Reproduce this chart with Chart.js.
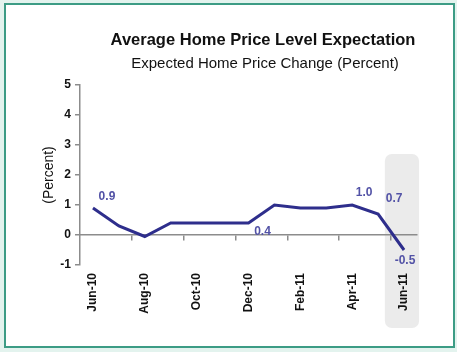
<!DOCTYPE html>
<html>
<head>
<meta charset="utf-8">
<script src="https://cdn.jsdelivr.net/npm/chart.js@4"></script>
<style>
  body { margin: 0; background: #e3f3ee; }
  #frame { position: absolute; left: 4px; top: 3px; width: 447px; height: 341px; border: 2px solid #3c9c85; background: #fff; }
  #c { position: absolute; left: 0; top: 0; }
</style>
</head>
<body>
<div id="frame"></div>
<canvas id="c" width="457" height="352"></canvas>
<script>
const months = ["Jun-10", "Jul-10", "Aug-10", "Sep-10", "Oct-10", "Nov-10", "Dec-10",
                "Jan-11", "Feb-11", "Mar-11", "Apr-11", "May-11", "Jun-11"];
const expectation = [0.9, 0.3, -0.05, 0.4, 0.4, 0.4, 0.4, 1.0, 0.9, 0.9, 1.0, 0.7, -0.5];
const pointLabels = ["0.9", null, null, null, null, null, "0.4", null, null, null, "1.0", "0.7", "-0.5"];
const yTicks = [5, 4, 3, 2, 1, 0, -1];

const axisGray = "#8c8c8c";
const lineColor = "#2e2e8c";
const labelColor = "#5252a6";

// where each value label sits relative to its point
const labelOffsets = { 0: [14, -11], 6: [14, 9], 10: [12, -12], 11: [16, -15], 12: [1, 11] };

const decor = {
  id: "decor",
  beforeDraw(chart) {
    const { ctx, chartArea } = chart;
    const xs = chart.scales.x, ys = chart.scales.y;
    const w = xs.getPixelForValue(1) - xs.getPixelForValue(0);
    const cx = xs.getPixelForValue(months.length - 1);
    ctx.save();
    ctx.fillStyle = "#ebebeb";
    ctx.beginPath();
    const top = ys.getPixelForValue(2.7);
    ctx.roundRect(cx - w * 0.74, top, w * 1.32, chartArea.bottom + 63 - top, 7);
    ctx.fill();
    ctx.restore();
  },
  afterDraw(chart) {
    const { ctx } = chart;
    ctx.save();
    ctx.fillStyle = "#111";
    ctx.textAlign = "center";
    ctx.font = "bold 16.5px 'Liberation Sans', Arial, sans-serif";
    ctx.fillText("Average Home Price Level Expectation", 263, 45);
    ctx.font = "15px 'Liberation Sans', Arial, sans-serif";
    ctx.fillText("Expected Home Price Change (Percent)", 265, 68);

    const meta = chart.getDatasetMeta(0);
    ctx.fillStyle = labelColor;
    ctx.font = "bold 12px 'Liberation Sans', Arial, sans-serif";
    ctx.textBaseline = "middle";
    pointLabels.forEach((t, i) => {
      if (!t) return;
      const p = meta.data[i];
      const o = labelOffsets[i] || [0, -10];
      ctx.fillText(t, p.x + o[0], p.y + o[1]);
    });
    ctx.restore();
  }
};

new Chart(document.getElementById("c"), {
  type: "line",
  data: {
    labels: months,
    datasets: [{
      data: expectation,
      borderColor: lineColor,
      borderWidth: 3,
      pointRadius: 0,
      tension: 0,
      xAxisID: "x",
      yAxisID: "y"
    }]
  },
  plugins: [decor],
  options: {
    responsive: false,
    animation: false,
    layout: { padding: { top: 85, right: 40, left: 0, bottom: 0 } },
    plugins: { legend: { display: false }, tooltip: { enabled: false } },
    scales: {
      x: {
        type: "category",
        position: "bottom",
        offset: true,
        afterFit: s => { s.height = 87; },
        grid: { display: false, drawTicks: false },
        border: { display: false },
        ticks: {
          autoSkip: false,
          maxRotation: 90,
          minRotation: 90,
          padding: 8,
          color: "#111",
          font: { family: "'Liberation Sans', Arial, sans-serif", size: 12, weight: "bold" },
          callback: (v, i) => (i % 2 === 0 ? months[i] : "")
        }
      },
      xZero: {
        type: "category",
        axis: "x",
        labels: months,
        position: { y: 0 },
        offset: true,
        grid: {
          offset: true,
          drawOnChartArea: false,
          tickLength: 5,
          lineWidth: 1.5,
          color: c => (c.index % 2 === 0 && c.index >= 2 ? axisGray : "rgba(0,0,0,0)")
        },
        border: { color: axisGray, width: 1.5 },
        ticks: { display: false, autoSkip: false }
      },
      y: {
        min: Math.min(...yTicks),
        max: Math.max(...yTicks),
        afterFit: s => { s.width = 80; },
        afterBuildTicks: s => { s.ticks = yTicks.map(v => ({ value: v })); },
        grid: { drawOnChartArea: false, tickLength: 5, color: axisGray, lineWidth: 1.5 },
        border: { color: axisGray, width: 1.5 },
        ticks: {
          padding: 4,
          color: "#111",
          font: { family: "'Liberation Sans', Arial, sans-serif", size: 12, weight: "bold" }
        },
        title: {
          display: true,
          text: "(Percent)",
          color: "#111",
          padding: { top: 41, bottom: 0 },
          font: { family: "'Liberation Sans', Arial, sans-serif", size: 14 }
        }
      }
    }
  }
});
</script>
</body>
</html>
